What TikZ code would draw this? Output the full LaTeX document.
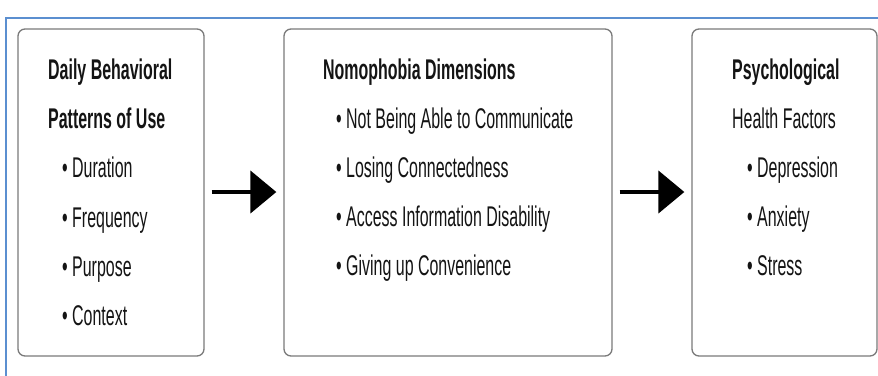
\documentclass[tikz,border=0pt]{standalone}
\usepackage{fontspec}
\setmainfont{Liberation Sans}[FakeStretch=0.56]
\usetikzlibrary{arrows.meta}
\definecolor{framebl}{HTML}{5B8FD0}
\definecolor{boxgray}{HTML}{7A7A7A}
\tikzset{
  panel/.style={draw=boxgray, line width=1.3pt, rounded corners=7pt, fill=white},
  txt/.style={anchor=base west, inner sep=0pt, font=\fontsize{28.5}{32}\selectfont, text=black!92},
  ttl/.style={txt, font=\fontsize{28.5}{32}\selectfont\bfseries},
  flow/.style={line width=4.4pt, -{Triangle[length=26pt,width=42pt]}, shorten <=7pt, shorten >=7pt}
}
\begin{document}
\begin{tikzpicture}[x=1pt,y=-1pt]
\useasboundingbox (0,0) rectangle (878,375);
\fill[white] (0,0) rectangle (878,375);
\draw[framebl, line width=2pt] (6,400) -- (6,18) -- (900,18);

% boxes
\node[panel, minimum width=186pt, minimum height=327pt] (b1) at (111,192.5) {};
\node[panel, minimum width=328pt, minimum height=327pt] (b2) at (448,192.5) {};
\node[panel, minimum width=185pt, minimum height=327pt] (b3) at (784.5,192.5) {};

% box 1 text
\node[ttl] (a1) at (48,79) {Daily Behavioral};
\node[ttl] (a2) at (48,128) {Patterns of Use};
\node[txt] (a3) at (62,177) {• Duration};
\node[txt] (a4) at (62,227) {• Frequency};
\node[txt] (a5) at (62,276) {• Purpose};
\node[txt] (a6) at (62,325) {• Context};

% box 2 text
\node[ttl] (m1) at (323,79) {Nomophobia Dimensions};
\node[txt] (m2) at (336,128) {• Not Being Able to Communicate};
\node[txt] (m3) at (336,177) {• Losing Connectedness};
\node[txt] (m4) at (336,226) {• Access Information Disability};
\node[txt] (m5) at (336,275) {• Giving up Convenience};

% box 3 text
\node[ttl] (p1) at (732,79) {Psychological};
\node[txt] (p2) at (732,128) {Health Factors};
\node[txt] (p3) at (747,177) {• Depression};
\node[txt] (p4) at (747,226) {• Anxiety};
\node[txt] (p5) at (747,275) {• Stress};

% arrows
\draw[flow] (b1.east |- 0,192) -- (b2.west |- 0,192);
\draw[flow] (b2.east |- 0,192) -- (b3.west |- 0,192);
\end{tikzpicture}
\end{document}
